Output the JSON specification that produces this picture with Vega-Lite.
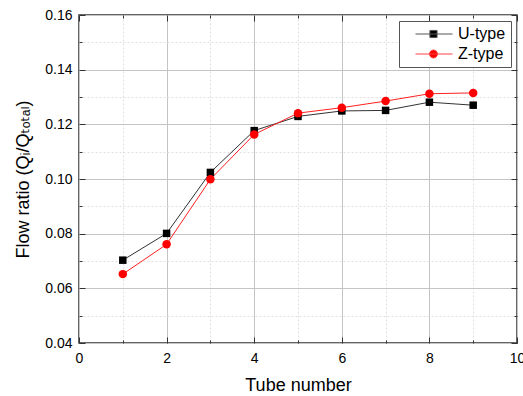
{
  "$schema": "https://vega.github.io/schema/vega-lite/v6.json",
  "width": 438,
  "height": 328,
  "autosize": "none",
  "padding": {"left": 79, "top": 15, "right": 6, "bottom": 53},
  "background": "white",
  "config": {
    "view": {"stroke": "#333333", "strokeWidth": 1.5},
    "font": "Liberation Sans",
    "axis": {
      "labelFont": "Liberation Sans",
      "titleFont": "Liberation Sans",
      "labelColor": "#000000",
      "titleColor": "#000000",
      "titleFontWeight": "normal",
      "domain": false,
      "tickColor": "#333333",
      "tickWidth": 1
    },
    "legend": {"labelFont": "Liberation Sans"}
  },
  "data": {
    "values": [
      {"tube": 1, "series": "U-type", "ratio": 0.0703},
      {"tube": 2, "series": "U-type", "ratio": 0.0801},
      {"tube": 3, "series": "U-type", "ratio": 0.1024},
      {"tube": 4, "series": "U-type", "ratio": 0.1177},
      {"tube": 5, "series": "U-type", "ratio": 0.1229},
      {"tube": 6, "series": "U-type", "ratio": 0.1249},
      {"tube": 7, "series": "U-type", "ratio": 0.1251},
      {"tube": 8, "series": "U-type", "ratio": 0.1281},
      {"tube": 9, "series": "U-type", "ratio": 0.1270},
      {"tube": 1, "series": "Z-type", "ratio": 0.0652},
      {"tube": 2, "series": "Z-type", "ratio": 0.0761},
      {"tube": 3, "series": "Z-type", "ratio": 0.0999},
      {"tube": 4, "series": "Z-type", "ratio": 0.1163},
      {"tube": 5, "series": "Z-type", "ratio": 0.1241},
      {"tube": 6, "series": "Z-type", "ratio": 0.1261},
      {"tube": 7, "series": "Z-type", "ratio": 0.1285},
      {"tube": 8, "series": "Z-type", "ratio": 0.1312},
      {"tube": 9, "series": "Z-type", "ratio": 0.1315}
    ]
  },
  "layer": [
    {
      "mark": {"type": "line", "strokeWidth": 1},
      "encoding": {
        "x": {
          "field": "tube", "type": "quantitative",
          "scale": {"domain": [0, 10], "nice": false},
          "axis": {
            "orient": "bottom",
            "values": [0, 1, 2, 3, 4, 5, 6, 7, 8, 9, 10],
            "labelExpr": "datum.value % 2 == 0 ? datum.label : ''",
            "tickSize": {"condition": {"test": "datum.value % 2 == 0", "value": -6}, "value": -3},
            "grid": true,
            "gridDash": {"condition": {"test": "datum.value % 2 == 0", "value": []}, "value": [2, 2]},
            "gridColor": {"condition": {"test": "datum.value % 2 == 0", "value": "#c4c4c4"}, "value": "#e0e0e0"},
            "labelFontSize": 14,
            "labelPadding": 14,
            "labelFlush": false,
            "title": "Tube number",
            "titleFontSize": 18,
            "titlePadding": 11
          }
        },
        "y": {
          "field": "ratio", "type": "quantitative",
          "scale": {"domain": [0.04, 0.16], "nice": false, "zero": false},
          "axis": {
            "orient": "left",
            "values": [0.04, 0.05, 0.06, 0.07, 0.08, 0.09, 0.10, 0.11, 0.12, 0.13, 0.14, 0.15, 0.16],
            "labelExpr": "round(datum.value * 100) % 2 == 0 ? format(datum.value, '.2f') : ''",
            "tickSize": {"condition": {"test": "round(datum.value * 100) % 2 == 0", "value": -6}, "value": -3},
            "grid": true,
            "gridDash": {"condition": {"test": "round(datum.value * 100) % 2 == 0", "value": []}, "value": [2, 2]},
            "gridColor": {"condition": {"test": "round(datum.value * 100) % 2 == 0", "value": "#c4c4c4"}, "value": "#e0e0e0"},
            "labelFontSize": 14,
            "labelPadding": 13,
            "labelFlush": false,
            "title": "Flow ratio (Qᵢ/Qₜₒₜₐₗ)",
            "titleFont": "'Liberation Sans', 'DejaVu Sans', sans-serif",
            "titleFontSize": 18,
            "titlePadding": 12
          }
        },
        "detail": {"field": "series"},
        "color": {"condition": {"test": "datum.series == 'U-type'", "value": "#333333"}, "value": "#ff2020"}
      }
    },
    {
      "mark": {"type": "point", "filled": true, "opacity": 1, "size": 60},
      "encoding": {
        "x": {
          "field": "tube", "type": "quantitative",
          "axis": {
            "orient": "top",
            "values": [0, 1, 2, 3, 4, 5, 6, 7, 8, 9, 10],
            "labels": false,
            "grid": false,
            "tickSize": {"condition": {"test": "datum.value % 2 == 0", "value": -6}, "value": -3},
            "title": null
          }
        },
        "y": {
          "field": "ratio", "type": "quantitative",
          "axis": {
            "orient": "right",
            "values": [0.04, 0.05, 0.06, 0.07, 0.08, 0.09, 0.10, 0.11, 0.12, 0.13, 0.14, 0.15, 0.16],
            "labels": false,
            "grid": false,
            "tickSize": {"condition": {"test": "round(datum.value * 100) % 2 == 0", "value": -6}, "value": -3},
            "title": null
          }
        },
        "shape": {"condition": {"test": "datum.series == 'U-type'", "value": "square"}, "value": "circle"},
        "color": {"condition": {"test": "datum.series == 'U-type'", "value": "#000000"}, "value": "#ff0000"},
        "size": {"condition": {"test": "datum.series == 'U-type'", "value": 56}, "value": 72}
      }
    },
    {
      "mark": {"type": "point", "filled": true, "opacity": 0, "size": 196, "strokeWidth": 1},
      "encoding": {
        "x": {"field": "tube", "type": "quantitative", "axis": null},
        "y": {"field": "ratio", "type": "quantitative", "axis": null},
        "shape": {
          "field": "series", "type": "nominal",
          "scale": {"domain": ["U-type", "Z-type"], "range": ["M0.5,0H5.79M2.56,-0.51H3.58V0.51H2.56Z", "M0.5,0H5.79M2.5,0a0.57,0.57 0 1,0 1.14,0a0.57,0.57 0 1,0 -1.14,0Z"]},
          "legend": {
            "title": null,
            "orient": "none",
            "legendX": 320,
            "legendY": 6,
            "strokeColor": "#555555",
            "fillColor": "white",
            "padding": 5,
            "symbolSize": 196,
            "symbolOpacity": 1,
            "symbolStrokeWidth": 1,
            "labelFontSize": 16,
            "labelOffset": 38,
            "rowPadding": 4
          }
        },
        "color": {
          "field": "series", "type": "nominal",
          "scale": {"domain": ["U-type", "Z-type"], "range": ["#000000", "#ff0000"]}
        },
        "stroke": {
          "field": "series", "type": "nominal",
          "scale": {"domain": ["U-type", "Z-type"], "range": ["#555555", "#ff4040"]}
        }
      }
    }
  ],
  "resolve": {"axis": {"x": "independent", "y": "independent"}}
}
